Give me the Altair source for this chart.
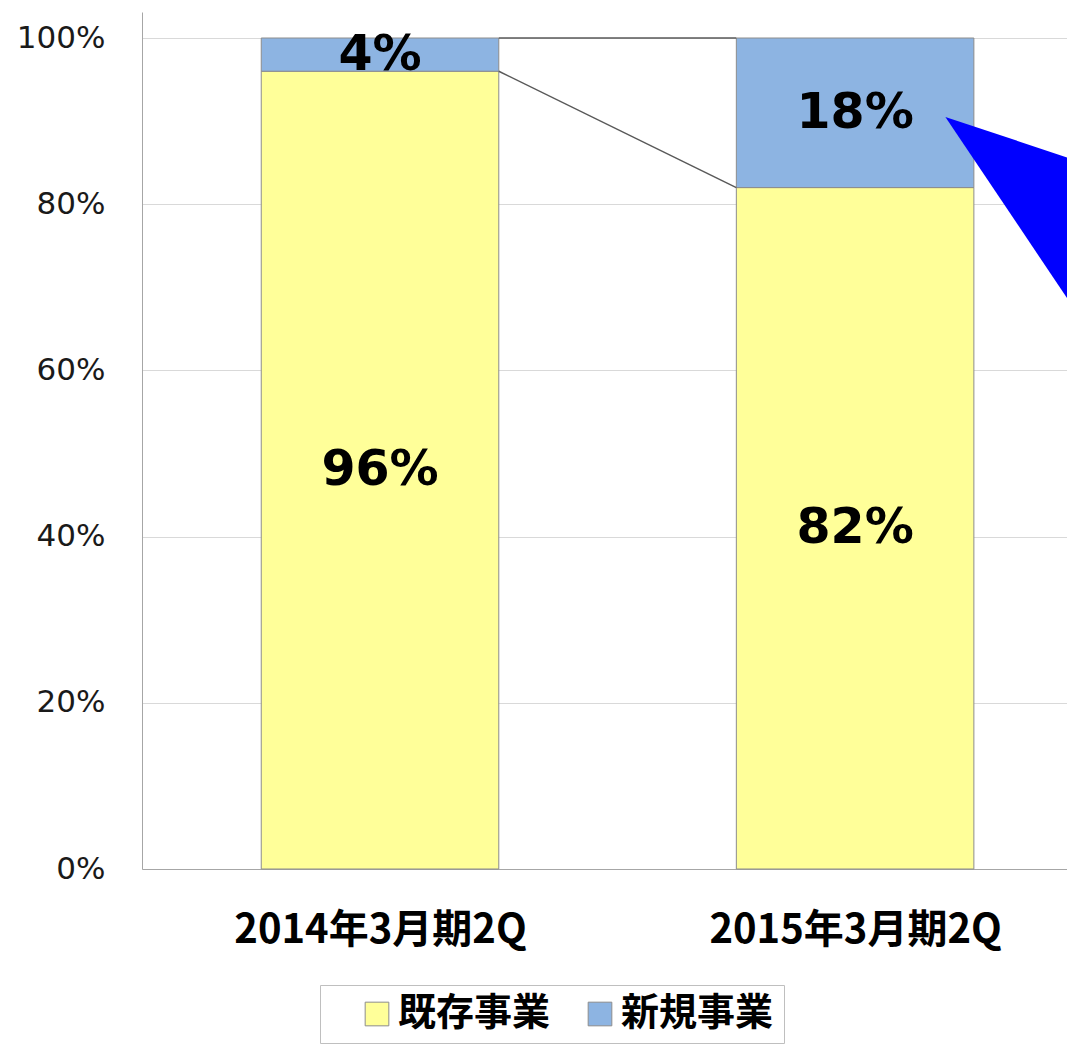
import json
import altair as alt
import pandas as pd

# ---- data ----
categories = ["2014年3月期2Q", "2015年3月期2Q"]
series = ["既存事業", "新規事業"]
existing = [96, 82]
new = [4, 18]
colors = ["#FFFF99", "#8DB4E2"]

# callout arrow (x in category-index units, y in %)
arrow_x = [1.19, 1.6]
arrow_top = [90.5, 82.7]
arrow_bottom = [90.5, 55.6]

half = 0.25  # half bar width in category units

rows = []
for i, c in enumerate(categories):
    rows.append(dict(idx=i, cat=c, series=series[0], y0=0, y1=existing[i],
                     mid=existing[i] / 2, label=f"{existing[i]}%",
                     xs=i - half, xe=i + half))
    rows.append(dict(idx=i, cat=c, series=series[1], y0=existing[i],
                     y1=existing[i] + new[i], mid=existing[i] + new[i] / 2,
                     label=f"{new[i]}%", xs=i - half, xe=i + half))
df = pd.DataFrame(rows)

conn = pd.DataFrame([
    dict(xa=0 + half, xb=1 - half, ya=existing[0] + new[0], yb=existing[1] + new[1]),
    dict(xa=0 + half, xb=1 - half, ya=existing[0], yb=existing[1]),
])
arrow = pd.DataFrame(dict(x=arrow_x, top=arrow_top, bottom=arrow_bottom))

xscale = alt.Scale(domain=[-0.501, 1.446], nice=False, zero=False)
yscale = alt.Scale(domain=[0, 103.13], nice=False)

label_expr = json.dumps(categories, ensure_ascii=False) + "[datum.value]"

x_axis = alt.Axis(values=[0, 1], labelExpr=label_expr, grid=False, ticks=False,
                  tickSize=0, labelPadding=41, labelFont="Noto Sans CJK JP",
                  labelFontWeight="bold", labelFontSize=40, labelColor="#000000",
                  labelLimit=0, domainColor="#A6A6A6", labelFlush=False,
                  labelOverlap=False, title=None)
y_axis = alt.Axis(values=[0, 20, 40, 60, 80, 100], labelExpr="datum.value + '%'",
                  grid=True, gridColor="#D9D9D9", ticks=False, tickSize=0,
                  labelPadding=37, labelFont="DejaVu Sans", labelFontSize=31,
                  labelColor="#1a1a1a", domainColor="#A6A6A6", minExtent=129,
                  maxExtent=129, title=None)

bars = alt.Chart(df).mark_bar(stroke="#8C8C8C", strokeWidth=1).encode(
    x=alt.X("xs:Q", scale=xscale, axis=x_axis),
    x2="xe:Q",
    y=alt.Y("y0:Q", scale=yscale, axis=y_axis),
    y2="y1:Q",
    color=alt.Color("series:N",
                    scale=alt.Scale(domain=series, range=colors),
                    sort=series,
                    legend=alt.Legend(
                        title=None, orient="none", legendX=178, legendY=973,
                        direction="horizontal", columns=2,
                        strokeColor="#BFBFBF", padding=10, fillColor="white",
                        symbolType="square", symbolSize=560,
                        symbolStrokeColor="#8C8C8C", symbolStrokeWidth=1,
                        symbolOffset=28, columnPadding=2, labelOffset=2,
                        labelFont="Noto Sans CJK JP", labelFontWeight="bold",
                        labelFontSize=38, labelColor="#000000")),
)

lines = alt.Chart(conn).mark_rule(color="#595959", strokeWidth=1.5).encode(
    x=alt.X("xa:Q", scale=xscale), x2="xb:Q",
    y=alt.Y("ya:Q", scale=yscale), y2="yb:Q",
)

texts = alt.Chart(df).mark_text(font="DejaVu Sans", fontWeight="bold",
                                fontSize=49, color="#000000",
                                baseline="middle", align="center").encode(
    x=alt.X("idx:Q", scale=xscale),
    y=alt.Y("mid:Q", scale=yscale),
    text="label:N",
)

arr = alt.Chart(arrow).mark_area(color="#0000FF", opacity=1, clip=True).encode(
    x=alt.X("x:Q", scale=xscale),
    y=alt.Y("top:Q", scale=yscale),
    y2="bottom:Q",
)

chart = alt.layer(bars, lines, texts, arr).properties(
    width=925, height=857,
    padding={"left": 5, "top": 4, "right": 0, "bottom": 0},
).configure(background="white").configure_view(stroke=None)

chart.save("out.html", embed_options={"renderer": "svg", "actions": False})
